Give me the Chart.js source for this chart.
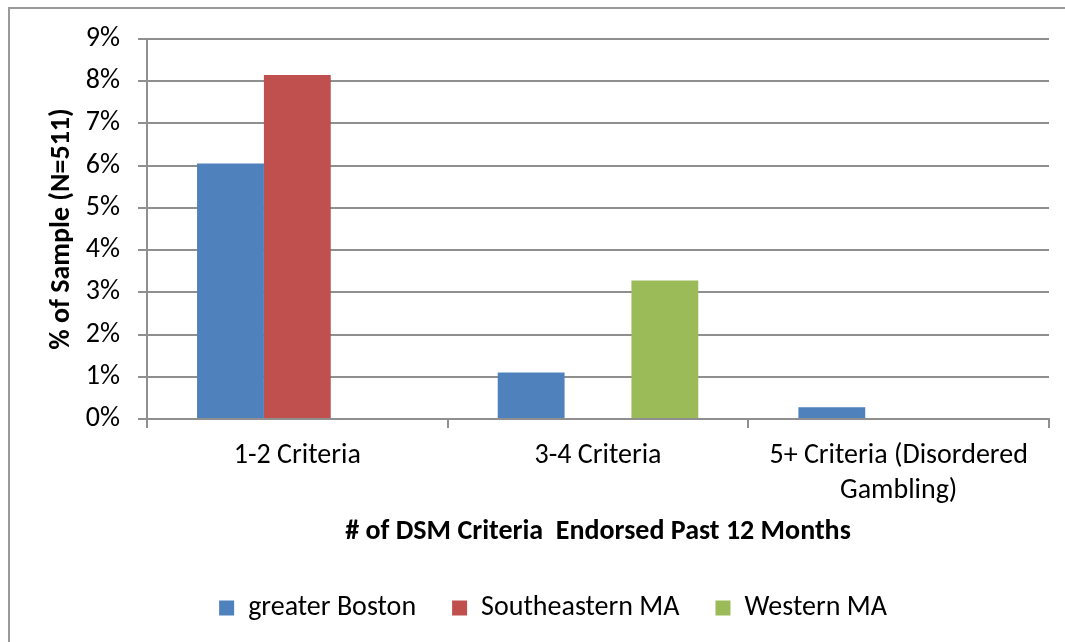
<!DOCTYPE html>
<html lang="en">
<head>
    <meta charset="UTF-8">
    <title>DSM Criteria Endorsed Past 12 Months</title>
    <script src="https://cdn.jsdelivr.net/npm/chart.js"></script>
    <style>
        html, body { margin: 0; padding: 0; background: #fff; overflow: hidden; }
        .frame {
            position: absolute; left: 8px; top: 7px;
            width: 1100px; height: 700px;
            border: 2px solid #9a9a9a;
        }
        .wrap { position: absolute; left: 0; top: 0; width: 1065px; height: 642px; }
    </style>
</head>
<body>
    <div class="frame"></div>
    <div class="wrap"><canvas id="dsmChart" width="1065" height="642"></canvas></div>

    <script>
        // categories + values (% of sample)
        const categories = ['1-2 Criteria', '3-4 Criteria', ['5+ Criteria (Disordered', 'Gambling)']];
        const greaterBoston = [6.05, 1.1, 0.28];
        const southeasternMA = [8.15, 0, 0];
        const westernMA = [0, 3.28, 0];
        const yTicks = [0, 1, 2, 3, 4, 5, 6, 7, 8, 9];

        const FONT = "Carlito, Calibri, Lato, sans-serif";
        const gridGray = '#8f8f8f';

        // Excel put the legend a bit left of centre, nudge it there after layout
        const legendNudge = {
            id: 'legendNudge',
            afterLayout(chart) {
                const lg = chart.legend;
                const dx = 553 - (lg.left + lg.right) / 2;
                lg.left += dx; lg.right += dx;
                lg.top += 12; lg.bottom += 12;
            }
        };

        const ctx = document.getElementById('dsmChart').getContext('2d');
        const chart = new Chart(ctx, {
            type: 'bar',
            data: {
                labels: categories,
                datasets: [
                    { label: 'greater Boston', data: greaterBoston, backgroundColor: '#4F81BD' },
                    { label: 'Southeastern MA', data: southeasternMA, backgroundColor: '#C0504D' },
                    { label: 'Western MA', data: westernMA, backgroundColor: '#9BBB59' }
                ]
            },
            options: {
                responsive: false,
                animation: false,
                datasets: {
                    bar: { categoryPercentage: 0.667, barPercentage: 1.0, borderWidth: 0 }
                },
                layout: { padding: { left: 40, right: 16, top: 39, bottom: 22 } },
                scales: {
                    x: {
                        grid: { display: true, drawOnChartArea: false, drawTicks: true, tickLength: 9, color: gridGray, lineWidth: 2 },
                        border: { color: gridGray, width: 2 },
                        ticks: { color: '#000', font: { family: FONT, size: 28, lineHeight: 1.25 }, padding: 10, maxRotation: 0 },
                        title: { display: true, text: '# of DSM Criteria  Endorsed Past 12 Months', color: '#000',
                                 font: { family: FONT, size: 28, weight: 'bold', lineHeight: 1.0 }, padding: { top: 0, bottom: 0 } }
                    },
                    y: {
                        min: 0, max: 9,
                        afterBuildTicks: (scale) => { scale.ticks = yTicks.map(v => ({ value: v })); },
                        afterFit: (scale) => { scale.width = 107; },
                        grid: { color: gridGray, lineWidth: 2, drawTicks: true, tickLength: 9 },
                        border: { color: gridGray, width: 2 },
                        ticks: { color: '#000', font: { family: FONT, size: 28 }, padding: 18, callback: v => v + '%' },
                        title: { display: true, text: '% of Sample (N=511)', color: '#000',
                                 font: { family: FONT, size: 28, weight: 'bold', lineHeight: 1.0 }, padding: { top: 8, bottom: 0 } }
                    }
                },
                plugins: {
                    legend: {
                        position: 'bottom',
                        labels: { color: '#000', boxWidth: 15, boxHeight: 15, padding: 36, font: { family: FONT, size: 28 } }
                    },
                    tooltip: { enabled: false }
                }
            },
            plugins: [legendNudge]
        });
    </script>
</body>
</html>
